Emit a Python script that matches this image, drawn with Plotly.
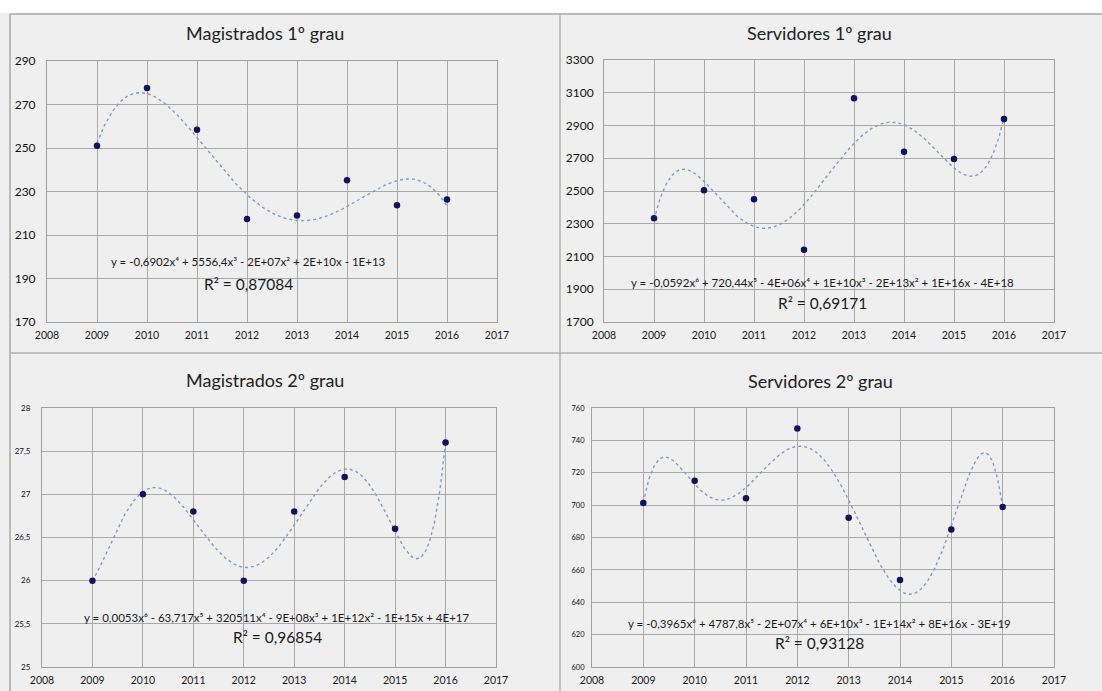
import numpy as np
import plotly.graph_objects as go

W, H = 1102, 691

years = [2009, 2010, 2011, 2012, 2013, 2014, 2015, 2016]
mag1 = [251, 277.6, 258.4, 217.4, 219, 235.2, 223.7, 226.3]
serv1 = [2333, 2504, 2449, 2141, 3067, 2739, 2696, 2939]
mag2 = [26.0, 27.0, 26.8, 26.0, 26.8, 27.2, 26.6, 27.6]
serv2 = [701.3, 715.1, 704.2, 747.4, 692.2, 653.8, 685.0, 698.8]

titles = ["Magistrados 1º grau", "Servidores 1º grau", "Magistrados 2º grau", "Servidores 2º grau"]
equations = [
    "y = -0,6902x⁴ + 5556,4x³ - 2E+07x² + 2E+10x - 1E+13",
    "y = -0,0592x⁶ + 720,44x⁵ - 4E+06x⁴ + 1E+10x³ - 2E+13x² + 1E+16x - 4E+18",
    "y = 0,0053x⁶ - 63,717x⁵ + 320511x⁴ - 9E+08x³ + 1E+12x² - 1E+15x + 4E+17",
    "y = -0,3965x⁶ + 4787,8x⁵ - 2E+07x⁴ + 6E+10x³ - 1E+14x² + 8E+16x - 3E+19",
]
r2 = ["R² = 0,87084", "R² = 0,69171", "R² = 0,96854", "R² = 0,93128"]
degrees = [4, 6, 6, 6]
yranges = [(170, 290, 20), (1700, 3300, 200), (25, 28, 0.5), (600, 760, 20)]
series = [mag1, serv1, mag2, serv2]

# layout in pixels: (left, right, top, bottom)
boxes = [(47, 497, 61, 322), (604, 1054, 60, 322), (42, 496, 408, 667), (592, 1054, 408, 667)]
title_pos = [(265, 33), (819, 33), (265, 380), (820, 381)]
eq_pos = [(248, 261), (822, 282), (276, 617), (819, 623)]
r2_pos = [(248, 284), (822, 303), (277, 637), (819, 643)]
ytick_size = [12, 12, 8, 7.5]
ytick_standoff = [8, 7, 9, 5]

def px(x):
    return x / W

def py(y):
    return 1 - y / H

FONT = "Lato"
fig = go.Figure()
anns = []
for i in range(4):
    ax = "" if i == 0 else str(i + 1)
    xa, ya = "x" + ax, "y" + ax
    x = np.array(years, dtype=float)
    y = np.array(series[i], dtype=float)
    coef = np.polyfit(x - 2012.5, y, degrees[i])
    xs = np.linspace(2009, 2016, 300)
    ys = np.polyval(coef, xs - 2012.5)
    fig.add_trace(go.Scatter(x=xs, y=ys, mode="lines", xaxis=xa, yaxis=ya,
                             line=dict(color="#8499bd", width=1.4, dash="dot"),
                             showlegend=False, hoverinfo="skip"))
    fig.add_trace(go.Scatter(x=years, y=series[i], mode="markers", xaxis=xa, yaxis=ya,
                             marker=dict(color="#10125a", size=6.5),
                             showlegend=False))
    l, r, t, b = boxes[i]
    lo, hi, dt = yranges[i]
    fig.layout["xaxis" + ax] = dict(
        domain=[px(l), px(r)], range=[2008, 2017], dtick=1, tick0=2008,
        anchor=ya, showgrid=True, gridcolor="#a9a9a9", gridwidth=1,
        showline=True, mirror=True, linecolor="#a0a0a0", linewidth=1,
        zeroline=False, ticks="", tickfont=dict(family=FONT, size=10.5, color="#1a1a1a"),
        ticklabelstandoff=3, automargin=False,
    )
    fig.layout["yaxis" + ax] = dict(
        domain=[py(b), py(t)], range=[lo, hi], dtick=dt, tick0=lo,
        anchor=xa, showgrid=True, gridcolor="#a9a9a9", gridwidth=1,
        showline=True, mirror=True, linecolor="#a0a0a0", linewidth=1,
        zeroline=False, ticks="",
        tickfont=dict(family=FONT, size=ytick_size[i], color="#111"),
        ticklabelstandoff=ytick_standoff[i], automargin=False,
    )
    anns.append(dict(text=titles[i], x=px(title_pos[i][0]), y=py(title_pos[i][1]),
                     xref="paper", yref="paper", showarrow=False,
                     font=dict(family=FONT, size=18, color="#222"),
                     xanchor="center", yanchor="middle"))
    anns.append(dict(text=equations[i], x=px(eq_pos[i][0]), y=py(eq_pos[i][1]),
                     xref="paper", yref="paper", showarrow=False,
                     font=dict(family=FONT, size=11.5, color="#1a1a1a"),
                     xanchor="center", yanchor="middle"))
    anns.append(dict(text=r2[i], x=px(r2_pos[i][0]), y=py(r2_pos[i][1]),
                     xref="paper", yref="paper", showarrow=False,
                     font=dict(family=FONT, size=15.5, color="#1a1a1a"),
                     xanchor="center", yanchor="middle"))

shapes = [
    dict(type="rect", xref="paper", yref="paper", x0=0, x1=1, y0=py(13), y1=1,
         fillcolor="white", line=dict(width=0), layer="below"),
    dict(type="line", xref="paper", yref="paper", x0=px(10), x1=1, y0=py(14), y1=py(14),
         line=dict(color="#a8a8a8", width=1.5)),
    dict(type="line", xref="paper", yref="paper", x0=px(10), x1=px(10), y0=0, y1=py(14),
         line=dict(color="#a8a8a8", width=1.5)),
    dict(type="line", xref="paper", yref="paper", x0=px(560), x1=px(560), y0=0, y1=py(14),
         line=dict(color="#b0b0b0", width=1.5)),
    dict(type="line", xref="paper", yref="paper", x0=px(10), x1=1, y0=py(353), y1=py(353),
         line=dict(color="#b0b0b0", width=1.5)),
]

fig.update_layout(
    width=W, height=H, margin=dict(l=0, r=0, t=0, b=0, autoexpand=False),
    paper_bgcolor="#efefef", plot_bgcolor="#efefef",
    separators=",.", annotations=anns, shapes=shapes,
    font=dict(family=FONT),
)
fig.write_html("out.html", config={"displayModeBar": False},
               post_script="document.body.style.margin='0';")
